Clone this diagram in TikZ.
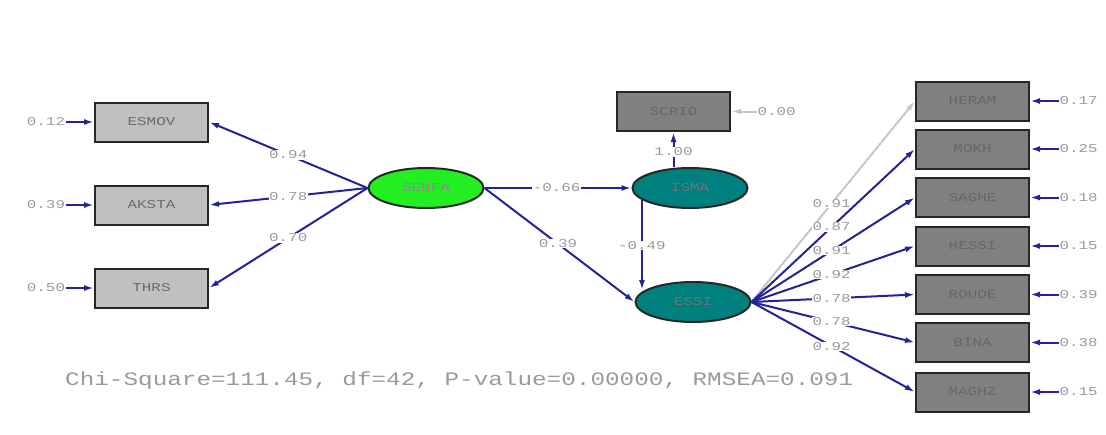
\documentclass[tikz,border=0pt]{standalone}
\usepackage{fontspec}
\usetikzlibrary{shapes.geometric,arrows.meta}
\newfontfamily\labfont[FakeStretch=1.32]{Liberation Mono}
\newfontfamily\chifont[FakeStretch=1.28]{Liberation Mono}
\definecolor{navy}{HTML}{22229A}
\definecolor{lbox}{HTML}{C0C0C0}
\definecolor{dbox}{HTML}{808080}
\definecolor{teal2}{HTML}{007F7F}
\definecolor{green2}{HTML}{22EE22}
\definecolor{labgray}{HTML}{9A9A9A}
\definecolor{txtgray}{HTML}{6A6A6A}
\tikzset{
  lbl/.style={font=\labfont\fontsize{12}{12}\selectfont, text=labgray, inner sep=0.5pt},
  onl/.style={lbl, fill=white},
  vbox/.style={draw=black!85, line width=2pt, minimum width=113pt, minimum height=39pt, inner sep=0pt,
    font=\labfont\fontsize{12}{12}\selectfont, text=txtgray},
  lightbox/.style={vbox, fill=lbox},
  darkbox/.style={vbox, fill=dbox, text=black!60},
  lat/.style={ellipse, draw=black!85, line width=2pt, minimum width=115pt, minimum height=40pt, inner sep=0pt,
    font=\labfont\fontsize{12}{12}\selectfont},
  path/.style={draw=navy, line width=2pt, -{Latex[length=10pt,width=6pt]}},
  gpath/.style={draw=black!22, line width=2pt, -{Latex[length=10pt,width=6pt]}},
}
\begin{document}
\begin{tikzpicture}[x=1pt,y=-1pt]
\useasboundingbox (0,0) rectangle (1106,434);
% observed variables left
\node[lightbox] (ESMOV) at (151.5,122) {ESMOV};
\node[lightbox] (AKSTA) at (151.5,205) {AKSTA};
\node[lightbox] (THRS)  at (151.5,288) {THRS};
% latent
\node[lat, fill=green2, text=black!45] (SENFA) at (426,188) {SENFA};
\node[lat, fill=teal2, text=black!55] (ISMA) at (690,188) {ISMA};
\node[lat, fill=teal2, text=black!55] (ESSI) at (693,302) {ESSI};
\node[darkbox] (SCRIO) at (673.5,111.5) {SCRIO};
% right boxes
\node[darkbox] (HERAM) at (972.5,101) {HERAM};
\node[darkbox] (MOKH)  at (972.5,149) {MOKH};
\node[darkbox] (SAGHE) at (972.5,197.5) {SAGHE};
\node[darkbox] (HESSI) at (972.5,246) {HESSI};
\node[darkbox] (ROUDE) at (972.5,294.5) {ROUDE};
\node[darkbox] (BINA)  at (972.5,342.5) {BINA};
\node[darkbox] (MAGHZ) at (972.5,392) {MAGHZ};
% error labels left
\node[lbl] (eE) at (46,122) {0.12};
\node[lbl] (eA) at (46,205) {0.39};
\node[lbl] (eT) at (46,288) {0.50};
\draw[path] (eE.east) -- (ESMOV.west);
\draw[path] (eA.east) -- (AKSTA.west);
\draw[path] (eT.east) -- (THRS.west);
% error labels right
\foreach \b/\v in {HERAM/0.17, MOKH/0.25, SAGHE/0.18, HESSI/0.15, ROUDE/0.39, BINA/0.38, MAGHZ/0.15}{
  \node[lbl, anchor=west] (e\b) at ([xshift=29pt]\b.east) {\v};
  \draw[path] (e\b.west) -- (\b.east);
}
\node[lbl, anchor=west] (eS) at ([xshift=26pt]SCRIO.east) {0.00};
\draw[gpath] (eS.west) -- (SCRIO.east);
% structural paths
\draw[path] (SENFA.west) -- node[onl, pos=0.5] {0.94} (ESMOV.east);
\draw[path] (SENFA.west) -- node[onl, pos=0.5] {0.78} (AKSTA.east);
\draw[path] (SENFA.west) -- node[onl, pos=0.5] {0.70} (THRS.east);
\draw[path] (SENFA.east) -- node[onl, pos=0.49] {-0.66} (ISMA.west);
\draw[path] (SENFA.east) -- node[onl, pos=0.49] {0.39} (ESSI.west);
\draw[path] (ISMA.194) -- node[onl, pos=0.51] {-0.49} (ISMA.194 |- ESSI.166);
\draw[path] (SCRIO.south |- ISMA.north) -- node[onl, pos=0.43] {1.00} (SCRIO.south);
% measurement paths right
\draw[gpath] (ESSI.east) -- node[onl, pos=0.49] {0.91} (HERAM.west);
\draw[path] (ESSI.east) -- node[onl, pos=0.49] {0.87} (MOKH.west);
\draw[path] (ESSI.east) -- node[onl, pos=0.49] {0.91} (SAGHE.west);
\draw[path] (ESSI.east) -- node[onl, pos=0.49] {0.92} (HESSI.west);
\draw[path] (ESSI.east) -- node[onl, pos=0.49] {0.78} (ROUDE.west);
\draw[path] (ESSI.east) -- node[onl, pos=0.49] {0.78} (BINA.west);
\draw[path] (ESSI.east) -- node[onl, pos=0.49] {0.92} (MAGHZ.west);
% fit statistics
\node[anchor=west, inner sep=0pt, font=\chifont\fontsize{19}{19}\selectfont, text=labgray] (chi) at (65,381)
  {Chi-Square=111.45, df=42, P-value=0.00000, RMSEA=0.091};
\end{tikzpicture}
\end{document}
